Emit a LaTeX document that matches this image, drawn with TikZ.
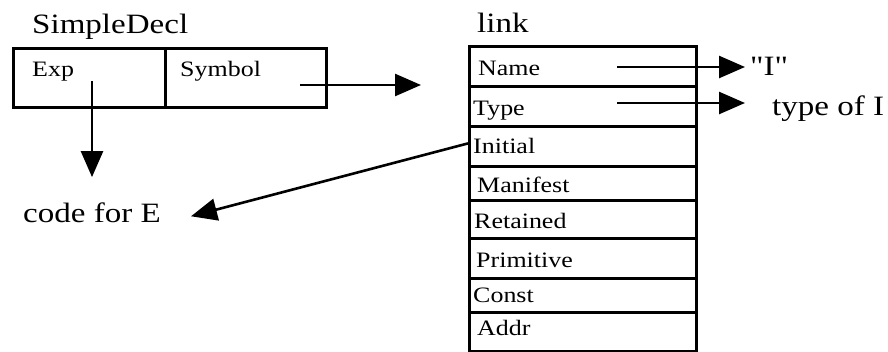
\documentclass[tikz,border=0pt]{standalone}
\usepackage{fontspec}
\usepackage{graphicx}
\setmainfont{Liberation Serif}[Ligatures=TeXOff]
\usetikzlibrary{arrows.meta,calc}
% widened serif lettering
\newcommand\widetext[1]{\scalebox{1.18}[1]{#1}}
\begin{document}
\begin{tikzpicture}[x=1pt,y=-1pt,
  box/.style={draw, line width=2.8pt, inner sep=0pt, anchor=north west},
  linkrow/.style={box, minimum width=227pt},
  big/.style={inner sep=0pt, anchor=base west, font=\fontsize{28}{31}\selectfont},
  small/.style={inner sep=0pt, anchor=base west, font=\fontsize{22}{25}\selectfont},
  ptr/.style={line width=2.6pt, -{Triangle[length=26pt,width=22pt]}}]
\useasboundingbox (0,0) rectangle (888,351);

% SimpleDecl record
\node[big] (sdtitle) at (32,33) {\widetext{SimpleDecl}};
\node[box, minimum width=152pt, minimum height=59pt] (expcell) at (12,47) {};
\node[box, minimum width=161pt, minimum height=59pt] (symcell) at (164,47) {};
\node[small] (exptext) at (32,76) {\widetext{Exp}};
\node[small] (symtext) at (180,76) {\widetext{Symbol}};

% link record
\node[big] (linktitle) at (477,32) {\widetext{link}};
\node[linkrow, minimum height=40pt] (name)      at (468,45)  {};
\node[linkrow, minimum height=40pt] (type)      at (468,85)  {};
\node[linkrow, minimum height=40pt] (initial)   at (468,125) {};
\node[linkrow, minimum height=34pt] (manifest)  at (468,165) {};
\node[linkrow, minimum height=38pt] (retained)  at (468,199) {};
\node[linkrow, minimum height=40pt] (primitive) at (468,237) {};
\node[linkrow, minimum height=34pt] (const)     at (468,277) {};
\node[linkrow, minimum height=39pt] (addr)      at (468,311) {};

\node[small] (nametext)      at (478,75)  {\widetext{Name}};
\node[small] (typetext)      at (473,115) {\widetext{Type}};
\node[small] (initialtext)   at (473,153) {\widetext{Initial}};
\node[small] (manifesttext)  at (477,192) {\widetext{Manifest}};
\node[small] (retainedtext)  at (474,228) {\widetext{Retained}};
\node[small] (primitivetext) at (476,267) {\widetext{Primitive}};
\node[small] (consttext)     at (473,302) {\widetext{Const}};
\node[small] (addrtext)      at (477,335) {\widetext{Addr}};

% targets
\node[big] (quoteI) at (750,75)  {\widetext{"I"}};
\node[big] (typeI)  at (772,115) {\widetext{type of I}};
\node[big] (codeE)  at (23,222)  {\widetext{code for E}};

% pointer origins
\coordinate (expptr)  at (92,81);
\coordinate (symptr)  at (300,85);
\coordinate (nameptr) at (617,67);
\coordinate (typeptr) at (617,103);
\coordinate (initptr) at ($(initial.west)+(0,-3)$);

% pointers
\draw[ptr, shorten >=25pt] (expptr) -- (expptr |- codeE.north);
\draw[ptr, shorten >=47pt] (symptr) -- (symptr -| name.west);
\draw[ptr, shorten >=5pt]  (nameptr) -- (nameptr -| quoteI.west);
\draw[ptr, shorten >=27pt] (typeptr) -- (typeptr -| typeI.west);
\draw[ptr] (initptr) -- ($(codeE.east)+(30,4)$);
\end{tikzpicture}
\end{document}
